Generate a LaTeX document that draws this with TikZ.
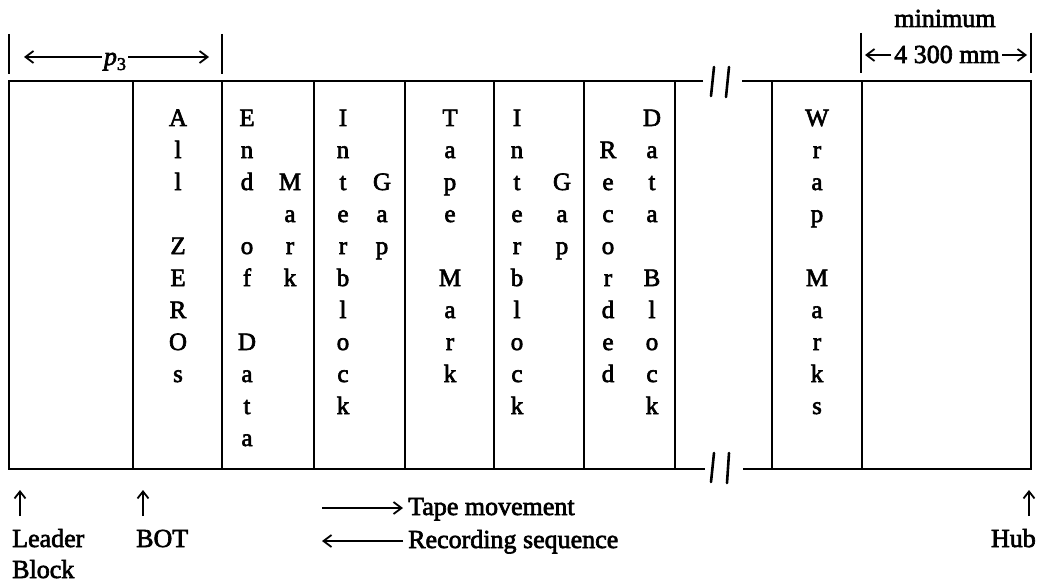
\documentclass[tikz,border=0pt]{standalone}
\usepackage{fontspec}
\setmainfont{Liberation Serif}[UprightFeatures={FakeBold=2.5},ItalicFeatures={FakeBold=2.5}]
\usetikzlibrary{arrows.meta}
\tikzset{
  boxline/.style={line width=2.8pt, line join=miter},
  brk/.style={line width=2.6pt, line cap=round},
  letter/.style={font=\fontsize{25}{30}\selectfont, anchor=base, inner sep=0pt},
  lbl/.style={font=\fontsize{26}{31}\selectfont, inner sep=0pt},
  dimline/.style={line width=1.8pt},
  dimtip/.style={-{Straight Barb[length=8pt,width=12pt]}},
  uptip/.style={line width=1.8pt,-{Straight Barb[length=7pt,width=11pt]}},
}
\newcommand\colword[4]{%
  \foreach \ch [count=\i from #3] in {#4} {\node[letter] (#1-\i) at (#2,{126+32*\i}) {\ch};}}
\begin{document}
\begin{tikzpicture}[x=1pt,y=-1pt]
\useasboundingbox (0,0) rectangle (1041,583);
% outline with breaks
\coordinate (tl) at (9,81); \coordinate (bl) at (9,469);
\coordinate (tr) at (1031,81); \coordinate (br) at (1031,469);
\coordinate (tbA) at (703,81); \coordinate (tbB) at (742,81);
\coordinate (bbA) at (705,469); \coordinate (bbB) at (743,469);
\draw[boxline] (tbA) -- (tl) -- (bl) -- (bbA);
\draw[boxline] (tbB) -- (tr) -- (br) -- (bbB);
% internal verticals
\foreach \x [count=\k] in {133,222,314,405,494,584,675,772,862} {
  \coordinate (vt\k) at (\x,81); \coordinate (vb\k) at (\x,469);
  \draw[boxline] (vt\k) -- (vb\k);
}
% break marks
\draw[brk] (711,96) -- (714,67);
\draw[brk] (726,97) -- (729,67);
\draw[brk] (711,482) -- (714,453);
\draw[brk] (727,483) -- (729,453);
% column texts
\colword{az}{178}{0}{A,l,l,{},Z,E,R,O,s}
\colword{ed}{247}{0}{E,n,d,{},o,f,{},D,a,t,a}
\colword{mk}{290}{2}{M,a,r,k}
\colword{ib}{343}{0}{I,n,t,e,r,b,l,o,c,k}
\colword{gp}{382}{2}{G,a,p}
\colword{tm}{450}{0}{T,a,p,e,{},M,a,r,k}
\colword{ibb}{517}{0}{I,n,t,e,r,b,l,o,c,k}
\colword{gpb}{562}{2}{G,a,p}
\colword{rc}{608}{1}{R,e,c,o,r,d,e,d}
\colword{db}{652}{0}{D,a,t,a,{},B,l,o,c,k}
\colword{wm}{817}{0}{W,r,a,p,{},M,a,r,k,s}
% p3 dimension
\coordinate (p3a) at (9,34); \coordinate (p3b) at (9,74);
\coordinate (p3c) at (222,34); \coordinate (p3d) at (222,74);
\draw[boxline] (p3a) -- (p3b);
\draw[boxline] (p3c) -- (p3d);
\coordinate (p3l) at (24,57); \coordinate (p3r) at (209,57);
\draw[dimline,{Straight Barb[length=8pt,width=12pt]}-{Straight Barb[length=8pt,width=12pt]}] (p3l) -- (p3r);
\node[lbl, fill=white, inner xsep=2pt, inner ysep=1pt, anchor=base] (p3) at (115,65) {\textit{p}\raisebox{-5pt}{\fontsize{18}{18}\selectfont 3}};
% minimum dimension
\coordinate (ma) at (861,33); \coordinate (mb) at (861,73);
\coordinate (mc) at (1031,33); \coordinate (md) at (1031,73);
\draw[boxline] (ma) -- (mb);
\draw[boxline] (mc) -- (md);
\node[lbl, anchor=base] (minimum) at (945,27) {minimum};
\node[lbl, anchor=base] (mm) at (947,63) {4 300 mm};
\coordinate (mml0) at (891,55); \coordinate (mml) at (865,55);
\coordinate (mmr0) at (1002,55); \coordinate (mmr) at (1027,55);
\draw[dimline,dimtip] (mml0) -- (mml);
\draw[dimline,dimtip] (mmr0) -- (mmr);
% bottom labels with up arrows
\coordinate (uL0) at (20,516); \coordinate (uL1) at (20,490);
\draw[uptip] (uL0) -- (uL1);
\node[lbl, anchor=base west] (leader) at (12,547) {Leader};
\node[lbl, anchor=base west] (block) at (12,578) {Block};
\coordinate (uB0) at (143,516); \coordinate (uB1) at (143,490);
\draw[uptip] (uB0) -- (uB1);
\node[lbl, anchor=base west] (bot) at (136,547) {BOT};
\coordinate (uH0) at (1029,516); \coordinate (uH1) at (1029,490);
\draw[uptip] (uH0) -- (uH1);
\node[lbl, anchor=base east] (hub) at (1036,547) {Hub};
% tape movement / recording sequence
\coordinate (tma) at (322,508); \coordinate (tmb) at (403,508);
\draw[dimline,dimtip] (tma) -- (tmb);
\node[lbl, anchor=base west] (tape) at (408,515) {Tape movement};
\coordinate (rsa) at (403,541); \coordinate (rsb) at (322,541);
\draw[dimline,dimtip] (rsa) -- (rsb);
\node[lbl, anchor=base west] (rec) at (408,548) {Recording sequence};
\end{tikzpicture}
\end{document}
